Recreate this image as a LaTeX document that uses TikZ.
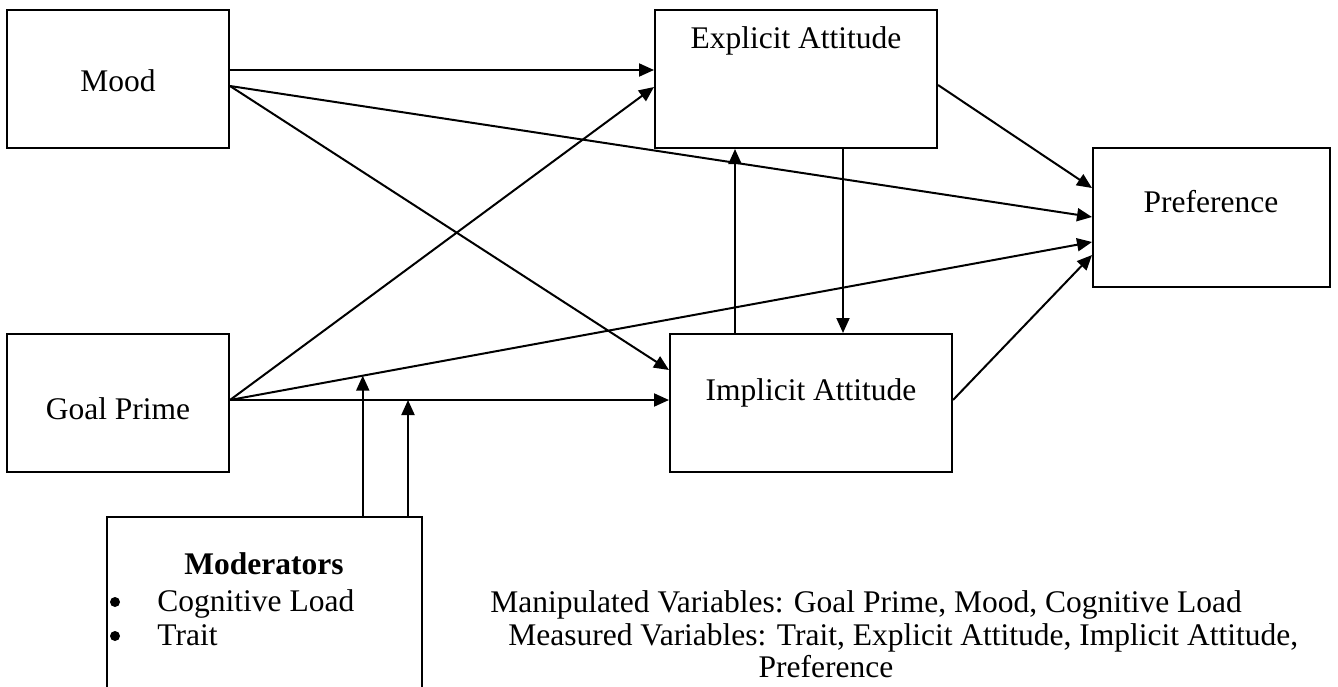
\documentclass[tikz,border=0pt]{standalone}
\usepackage{fontspec}
\setmainfont{Liberation Serif}
\usetikzlibrary{arrows.meta,calc}
\begin{document}
\begin{tikzpicture}[x=0.5pt,y=-0.5pt,
  box/.style={draw,line width=1pt,rectangle,inner sep=0pt},
  lbl/.style={inner sep=0pt,font=\fontsize{15.75}{18}\selectfont},
  conn/.style={line width=1pt,-{Triangle[length=7.5pt,width=6.5pt]}}]
\useasboundingbox (0,0) rectangle (1338,686);
\clip (0,0) rectangle (1338,686);
% boxes
\node[box,minimum width=111pt,minimum height=69pt] (mood) at (118,79) {};
\node[box,minimum width=111pt,minimum height=69pt] (goal) at (118,403) {};
\node[box,minimum width=141pt,minimum height=69pt] (explicit) at (796,79) {};
\node[box,minimum width=141pt,minimum height=69pt] (implicit) at (811,403) {};
\node[box,minimum width=118.5pt,minimum height=69.5pt] (pref) at (1211.5,217.5) {};
\node[box,minimum width=157.5pt,minimum height=95pt] (mod) at (264.5,612) {};
% labels
\node[lbl,anchor=base] (tmood) at (118,91) {Mood};
\node[lbl,anchor=base] (tgoal) at (118,419) {Goal Prime};
\node[lbl,anchor=base] (texp) at (796,48) {Explicit Attitude};
\node[lbl,anchor=base] (timp) at (811,400) {Implicit Attitude};
\node[lbl,anchor=base] (tpref) at (1211,212) {Preference};
\node[lbl,anchor=base,font=\fontsize{15.75}{18}\selectfont\bfseries] (tmod) at (264,574) {Moderators};
\node[lbl,anchor=base west] (tcog) at (157,611) {Cognitive Load};
\node[lbl,anchor=base west] (ttrait) at (157,645) {Trait};
\fill (115,602) circle (2.5pt);
\fill (115,636) circle (2.5pt);
\node[lbl,anchor=base west] (n1) at (490,612) {Manipulated Variables: Goal Prime, Mood, Cognitive Load};
\node[lbl,anchor=base west] (n2) at (508,645) {Measured Variables: Trait, Explicit Attitude, Implicit Attitude,};
\node[lbl,anchor=base] (n3) at (826,677) {Preference};
% connectors
\draw[conn] (mood.east |- 0,70) -- (explicit.west |- 0,70);
\draw[conn] (mood.east |- 0,86) -- (pref.west |- 0,217);
\draw[conn] (mood.east |- 0,86) -- (implicit.west |- 0,370);
\draw[conn] (goal.east |- 0,400) -- (explicit.west |- 0,87);
\draw[conn] (goal.east |- 0,400) -- (pref.west |- 0,242);
\draw[conn] (goal.east |- 0,400) -- (implicit.west |- 0,400);
\draw[conn] (explicit.east |- 0,85) -- (pref.west |- 0,188);
\draw[conn] (implicit.east |- 0,400) -- (pref.west |- 0,255);
\draw[conn] (implicit.north -| 735,0) -- (explicit.south -| 735,0);
\draw[conn] (explicit.south -| 843,0) -- (implicit.north -| 843,0);
\coordinate (j1) at ($(goal.east |- 0,400)!0.154!(pref.west |- 0,242)$);
\coordinate (j2) at (408,400);
\draw[conn] (mod.north -| j1) -- (j1);
\draw[conn] (mod.north -| j2) -- (j2);
\end{tikzpicture}
\end{document}
